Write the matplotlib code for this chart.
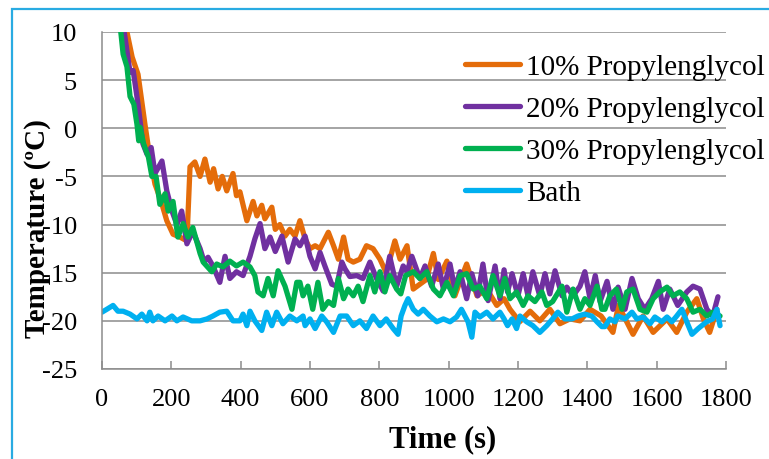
"""
Curvas de enfriamiento: propilenglicol al 10/20/30 % frente al baño.
"""

import matplotlib
matplotlib.use("Agg")
import matplotlib.pyplot as plt
from matplotlib.patches import Rectangle

plt.rcParams.update({
    "font.family": ["Liberation Serif", "DejaVu Serif"],
    "axes.unicode_minus": False,
})

# ── Datos ────────────────────────────────────────────────────────────────────

t_10 = [60, 72, 87, 104, 124, 138, 153, 170, 187, 205, 225, 245, 254, 268, 283,
        297, 312, 322, 335, 347, 360, 378, 388, 398, 418, 436, 447, 461, 470,
        490, 500, 513, 528, 542, 557, 571, 586, 600, 615, 629, 653, 668, 682,
        697, 710, 725, 744, 763, 782, 802, 820, 845, 860, 880, 898, 917, 936,
        956, 970, 995, 1018, 1033, 1052, 1082, 1110, 1139, 1160, 1177, 1205,
        1235, 1263, 1292, 1321, 1350, 1379, 1408, 1440, 1474, 1490, 1532, 1561,
        1590, 1630, 1658, 1687, 1716, 1735, 1753, 1774]
temp_10 = [12, 10, 7.4, 5.6, 0.4, -3, -5.8, -7.5, -9.6, -11, -11.3, -11.7, -4,
           -3.5, -5, -3.2, -5.6, -4.2, -6.3, -5, -6.5, -4.7, -7, -6.6, -9.6,
           -7.6, -9.1, -8, -9.4, -8.2, -10.5, -10, -11.2, -10.5, -11.2, -9.6,
           -11.5, -12.5, -12.2, -12.5, -10.8, -12.2, -13.6, -11.3, -13.6, -13.9,
           -13.6, -12.2, -12.5, -13.6, -15, -11.7, -13.6, -12.2, -16.7, -16.2,
           -15.7, -13, -15.7, -13.8, -17.4, -15.9, -14.1, -17.4, -16.7, -18.4,
           -17.7, -18.8, -20.1, -19, -20, -18.8, -20.3, -19.8, -20, -18.8,
           -19.5, -21.2, -18.4, -21.4, -19.5, -21.2, -19.8, -21.2, -19.1,
           -17.7, -19.8, -21.2, -18.8]

t_20 = [50, 61, 81, 90, 104, 118, 130, 142, 153, 173, 187, 202, 216, 230, 245,
        262, 283, 295, 306, 320, 340, 355, 369, 388, 407, 427, 441, 456, 470,
        485, 500, 519, 537, 557, 571, 586, 600, 615, 629, 643, 663, 677, 692,
        701, 715, 735, 753, 773, 792, 811, 830, 850, 869, 880, 894, 917, 932,
        951, 970, 985, 1004, 1018, 1033, 1052, 1067, 1084, 1099, 1114, 1134,
        1148, 1160, 1170, 1183, 1200, 1215, 1229, 1243, 1263, 1278, 1292, 1307,
        1327, 1341, 1359, 1379, 1393, 1408, 1423, 1437, 1457, 1474, 1489, 1509,
        1529, 1547, 1566, 1586, 1605, 1619, 1638, 1661, 1687, 1705, 1725, 1745,
        1762, 1777]
temp_20 = [12, 10.8, 5.8, 6, 2.5, -1.6, -2.7, -2, -4.7, -3.4, -6.5, -8.6, -10,
           -8.6, -12, -10.7, -12.5, -13.9, -13.4, -14.3, -16, -13.3, -15.6,
           -14.9, -15.3, -13.3, -11.5, -9.9, -12.5, -11.3, -12.8, -11.2, -13.9,
           -11.5, -12.2, -11.2, -13.3, -14.6, -12.9, -14.3, -16.2, -16.4, -13.9,
           -14.6, -15.4, -15.3, -15.6, -13.9, -15.6, -16.9, -13.3, -16.4, -14.3,
           -14.9, -13.3, -15.6, -14.3, -16.4, -14.1, -16.7, -14.1, -16.7, -14.9,
           -17.7, -15.1, -17.4, -14.1, -17.9, -14.3, -17.7, -14.7, -17, -15.1,
           -17.4, -15.1, -17.4, -14.9, -17.4, -15.1, -17.2, -14.8, -17.4, -16.5,
           -17.4, -16.4, -14.9, -17.7, -15.3, -18, -15.9, -18.8, -16.5, -18.8,
           -15.6, -17.7, -18.8, -17.7, -15.9, -18.8, -16.7, -18.4, -17, -16.4,
           -16.7, -18.8, -19.5, -17.5]

t_30 = [45, 52, 61, 72, 81, 92, 101, 106, 110, 120, 134, 144, 156, 167, 182,
        191, 205, 219, 234, 248, 262, 283, 292, 302, 317, 331, 349, 369, 388,
        407, 427, 441, 450, 465, 479, 494, 508, 528, 548, 562, 571, 580, 594,
        608, 623, 637, 653, 668, 682, 697, 710, 725, 739, 753, 773, 787, 802,
        816, 830, 850, 862, 876, 898, 917, 937, 956, 975, 995, 1014, 1033,
        1052, 1071, 1090, 1110, 1128, 1148, 1162, 1177, 1196, 1215, 1229, 1249,
        1269, 1283, 1300, 1327, 1341, 1359, 1379, 1393, 1408, 1428, 1442, 1451,
        1465, 1484, 1500, 1514, 1532, 1552, 1572, 1590, 1609, 1630, 1647, 1667,
        1687, 1705, 1725, 1745, 1762, 1783]
temp_30 = [12, 10.8, 7.7, 6.4, 3.3, 2.5, 0.4, -1.3, 0.1, -1.6, -3, -5, -5, -7.9,
           -6.8, -8.6, -7.6, -11.3, -9.9, -11.3, -10.3, -13, -13.9, -14.3,
           -14.9, -14.1, -14.4, -13.8, -14.3, -13.9, -14.4, -15.3, -17, -17.4,
           -15.6, -17.4, -14.8, -16.4, -18.8, -16, -16, -17.4, -16.4, -18.8, -16,
           -18.8, -18, -18.4, -15.6, -17.7, -16.7, -17.4, -16.4, -18, -15.3, -17,
           -14.9, -17, -15.3, -16.7, -17.2, -15.3, -14.9, -15.6, -14.9, -16.7,
           -17.4, -16, -17.4, -15.3, -15.1, -16.7, -16.4, -17.7, -15.3, -17.4,
           -15.6, -17.7, -17, -18.4, -17.4, -18, -17, -18.4, -18, -16.4, -19.1,
           -16.7, -18.8, -17.7, -18.4, -16.4, -18.8, -18.8, -17.4, -16.7, -18.8,
           -17, -16.7, -18.8, -19.1, -17.7, -17, -16.5, -17.4, -17, -17.7, -19.1,
           -18.8, -19.5, -19.1, -19.5]

t_bath = [0, 14, 32, 46, 61, 81, 101, 115, 130, 138, 147, 162, 182, 202, 216,
          234, 259, 283, 303, 320, 340, 360, 378, 398, 407, 418, 427, 441, 461,
          475, 490, 504, 522, 542, 562, 580, 586, 600, 615, 634, 648, 668, 687,
          706, 725, 744, 763, 782, 802, 820, 840, 854, 863, 874, 883, 898, 912,
          927, 946, 966, 985, 1004, 1023, 1037, 1056, 1067, 1076, 1090, 1110,
          1128, 1148, 1160, 1170, 1183, 1196, 1206, 1225, 1243, 1263, 1283,
          1300, 1315, 1335, 1356, 1373, 1393, 1413, 1428, 1442, 1451, 1465,
          1480, 1488, 1509, 1529, 1543, 1561, 1581, 1595, 1615, 1630, 1644,
          1658, 1673, 1687, 1702, 1720, 1744, 1762, 1774, 1783]
temp_bath = [-19.1, -18.8, -18.4, -19, -19, -19.3, -19.8, -19.3, -20, -19.1,
             -20, -19.5, -20, -19.5, -20, -19.6, -20, -20, -19.8, -19.5, -19.1,
             -19, -20, -20, -19.3, -20.5, -19, -20, -21, -19.1, -20.5, -19.1,
             -20.3, -19.5, -20, -19.5, -20.5, -19.8, -20.8, -19.5, -20.1, -21.2,
             -19.5, -19.5, -20.5, -20, -20.8, -19.5, -20.5, -19.8, -20.8, -21.4,
             -19.5, -18.4, -17.7, -18.8, -19.3, -18.8, -19.5, -20.1, -19.8,
             -20.1, -19.6, -18.8, -20.1, -21.7, -19.1, -19.6, -19.1, -19.8,
             -19.1, -19.8, -20.5, -19.8, -20.8, -19.5, -20.1, -20.5, -21.2,
             -20.5, -19.8, -19.1, -19.8, -19.8, -19.5, -19.3, -19.5, -20.1,
             -20.6, -20.6, -19.8, -20.1, -19.5, -19.8, -19.1, -19.8, -19.6,
             -20.3, -19.6, -20.1, -19.6, -20.1, -19.5, -18.8, -20.1, -21.4,
             -20.8, -20.1, -19.8, -18.8, -20.5]

series = [
    ("10% Propylenglycol", t_10, temp_10, "#E46C0A"),
    ("20% Propylenglycol", t_20, temp_20, "#7030A0"),
    ("30% Propylenglycol", t_30, temp_30, "#00B050"),
    ("Bath", t_bath, temp_bath, "#00B0F0"),
]

x_ticks = list(range(0, 1801, 200))
y_ticks = list(range(-25, 11, 5))

# ── Figura ───────────────────────────────────────────────────────────────────

fig = plt.figure(figsize=(7.69, 4.6), dpi=100)
ax = fig.add_axes([0.1326, 0.1957, 0.8114, 0.7326])

for nombre, t, temp, color in series:
    ax.plot(t, temp, color=color, linewidth=3.8, label=nombre,
            solid_joinstyle="round", solid_capstyle="round")

ax.set_xlim(0, 1800)
ax.set_ylim(-25, 10)
ax.set_xticks(x_ticks)
ax.set_yticks(y_ticks)
ax.grid(axis="y", color="#8C8C8C", linewidth=1.1)
ax.set_axisbelow(True)

for lado in ("top", "right"):
    ax.spines[lado].set_visible(False)
for lado in ("left", "bottom"):
    ax.spines[lado].set_color("#8C8C8C")
    ax.spines[lado].set_linewidth(1.1)

ax.tick_params(axis="x", direction="in", length=6, width=1.1, color="#8C8C8C",
               labelsize=19, pad=14)
ax.tick_params(axis="y", length=0, labelsize=19, pad=18)

fig.text(443 / 769, 1 - 440 / 460, "Time (s)", fontsize=22, fontweight="bold",
         ha="center", va="center")
fig.text(38 / 769, 1 - 229 / 460, "Temperature (ºC)", fontsize=21,
         fontweight="bold", rotation=90, ha="center", va="center")

ax.legend(loc="upper left", bbox_to_anchor=(465 / 769, 1 - 55 / 460),
          bbox_transform=fig.transFigure, frameon=False, fontsize=21,
          borderpad=0, borderaxespad=0, handlelength=1.9, handletextpad=0.2,
          labelspacing=0.53)

# Marco exterior azul
fig.patches.append(Rectangle((12 / 769, -0.1), 2, 1.1 - 10 / 460,
                             transform=fig.transFigure, fill=False,
                             edgecolor="#29ABE2", linewidth=1.6))

fig.savefig("out.png", dpi=100)
plt.close(fig)
